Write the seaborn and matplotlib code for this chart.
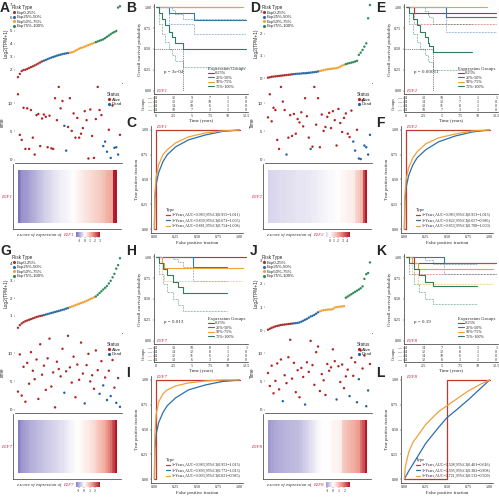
import numpy as np
import pandas as pd
import matplotlib
matplotlib.use("Agg")
import matplotlib.pyplot as plt
import seaborn as sns
from matplotlib.colors import LinearSegmentedColormap
from matplotlib.lines import Line2D

# ---------------- data ----------------
genes = ["E2F1", "E2F2", "E2F7", "E2F8"]
panel_letters = [["A", "B", "C"], ["D", "E", "F"], ["G", "H", "I"], ["J", "K", "L"]]
risk_labels = ["Exp0-25%", "Exp25%-50%", "Exp50%-75%", "Exp75%-100%"]
km_labels = ["0-25%", "25%-50%", "50%-75%", "75%-100%"]
km_ticks = [0, 2.5, 5, 7.5, 10, 12.5]
km_tick_labels = ["0", "2.5", "5", "7.5", "10", "12.5"]
pvalues = ["p = 3e-04", "p = 0.00011", "p = 0.013", "p = 0.19"]
medians = [3.8, 3.7, None, None]

expr_E2F1 = [1.45, 1.7, 1.92, 2.0, 2.02, 2.08, 2.15, 2.22, 2.28, 2.35, 2.42, 2.5, 2.58, 2.66,
             2.72, 2.77, 2.84, 2.9, 2.95, 3.0, 3.05, 3.1, 3.15, 3.18, 3.22, 3.25, 3.28, 3.3,
             3.33, 3.36, 3.4, 3.48, 3.56, 3.64, 3.7, 3.74, 3.8, 3.86, 3.92, 3.97, 4.02, 4.08,
             4.14, 4.2, 4.25, 4.3, 4.36, 4.45, 4.55, 4.65, 4.75, 4.85, 4.92, 5.0, 6.8, 6.9]
expr_E2F2 = [0.02, 0.04, 0.06, 0.07, 0.08, 0.09, 0.1, 0.11, 0.12, 0.13, 0.14, 0.15, 0.16, 0.17,
             0.18, 0.19, 0.2, 0.2, 0.21, 0.22, 0.22, 0.23, 0.24, 0.25, 0.26, 0.27, 0.28, 0.3,
             0.32, 0.34, 0.36, 0.38, 0.4, 0.41, 0.42, 0.43, 0.44, 0.45, 0.48, 0.52, 0.56, 0.6,
             0.63, 0.66, 0.68, 0.7, 0.72, 0.75, 0.78, 1.05, 1.15, 1.27, 1.42, 1.57, 2.7, 3.3]
expr_E2F7 = [0.3, 0.45, 0.55, 0.62, 0.68, 0.72, 0.76, 0.8, 0.84, 0.88, 0.92, 0.95, 0.98, 1.0,
             1.03, 1.06, 1.09, 1.12, 1.15, 1.18, 1.21, 1.24, 1.27, 1.3, 1.33, 1.36, 1.4, 1.44,
             1.48, 1.52, 1.56, 1.6, 1.64, 1.68, 1.72, 1.76, 1.8, 1.85, 1.9, 1.95, 2.0, 2.05,
             2.1, 2.2, 2.3, 2.4, 2.5, 2.6, 2.7, 2.85, 3.0, 3.2, 3.4, 3.7, 3.9, 4.3]
expr_E2F8 = [0.04, 0.08, 0.12, 0.15, 0.18, 0.2, 0.22, 0.24, 0.25, 0.26, 0.27, 0.28, 0.29, 0.3,
             0.31, 0.32, 0.33, 0.35, 0.38, 0.42, 0.46, 0.5, 0.55, 0.6, 0.63, 0.67, 0.72, 0.78,
             0.82, 0.85, 0.87, 0.88, 0.89, 0.9, 0.9, 0.92, 0.98, 1.0, 1.01, 1.02, 1.03, 1.04,
             1.4, 1.45, 1.5, 1.55, 1.6, 1.65, 1.7, 1.75, 1.8, 1.88, 2.2, 2.4, 2.45, 2.9]

time_E2F1 = [11.6, 4.4, 3.5, 9.2, 1.9, 9.1, 1.9, 8.8, 3.9, 0.9, 7.9, 8.1, 2.4, 7.3,
             8.0, 7.6, 2.2, 7.8, 2.0, 1.9, 10.9, 7.0, 12.9, 9.1, 10.4, 6.0, 1.6, 5.8,
             10.9, 5.1, 8.2, 3.9, 7.4, 3.9, 4.6, 5.6, 8.6, 7.0, 0.2, 8.9, 4.2, 0.3,
             7.2, 12.9, 8.8, 7.9, 2.4, 3.2, 1.4, 5.3, 0.3, 9.6, 2.1, 2.2, 0.9, 4.4]
time_E2F2 = [7.5, 11.6, 6.8, 9.2, 8.8, 3.5, 1.9, 12.9, 10.3, 8.8, 0.9, 3.9, 7.9, 4.2,
             8.1, 4.6, 7.2, 6.6, 8.4, 5.9, 10.9, 7.7, 3.9, 1.9, 2.3, 12.9, 6.2, 10.9,
             2.2, 8.0, 5.1, 5.8, 7.6, 8.3, 5.6, 8.6, 7.0, 2.5, 9.0, 6.5, 4.9, 7.4,
             8.2, 4.6, 4.0, 8.7, 3.2, 1.6, 5.3, 0.2, 0.1, 10.5, 2.5, 2.2, 0.9, 4.4]
time_E2F7 = [3.2, 9.8, 2.5, 7.6, 1.4, 8.3, 4.6, 10.2, 6.9, 5.4, 8.9, 1.9, 11.6, 6.2,
             7.8, 3.5, 9.1, 12.6, 4.1, 6.6, 0.4, 8.5, 7.2, 5.9, 10.8, 3.0, 6.8, 13.1,
             7.5, 4.8, 9.4, 2.2, 8.0, 5.3, 11.9, 6.4, 1.1, 7.9, 9.9, 5.0, 6.1, 3.7,
             10.5, 7.0, 2.8, 8.6, 4.3, 5.7, 1.7, 6.9, 2.4, 8.8, 3.9, 1.2, 5.6, 0.5]
time_E2F8 = [6.5, 4.2, 7.8, 2.9, 5.1, 8.2, 3.6, 8.9, 1.5, 6.1, 4.7, 9.3, 12.4, 5.5,
             8.3, 3.1, 7.0, 2.2, 7.4, 5.8, 0.9, 8.4, 6.7, 12.2, 7.9, 4.4, 10.2, 11.2,
             3.3, 6.3, 5.2, 2.6, 8.1, 6.9, 7.5, 10.7, 8.6, 1.8, 7.7, 4.9, 8.0, 3.8,
             5.9, 7.1, 2.4, 9.2, 6.0, 8.4, 1.3, 5.4, 10.5, 7.3, 9.6, 0.6, 3.4, 8.1]

dead_E2F1 = [25, 26, 46, 47, 48, 50, 52, 53, 54]
dead_E2F2 = [10, 23, 46, 47, 49, 50, 52, 53, 54, 55]
dead_E2F7 = [25, 36, 44, 46, 48, 50, 53, 55]
dead_E2F8 = [8, 20, 37, 44, 48, 49, 53, 54]

km_t_E2F1 = [[0, 11.5], [0, 1.8, 5.3, 12.5], [0, 12.0], [0, 0.5, 0.9, 1.3, 1.8, 2.2, 2.6, 3.8, 12.5]]
km_s_E2F1 = [[1, 1], [1, 0.93, 0.85, 0.85], [1, 1], [1, 0.93, 0.86, 0.79, 0.71, 0.64, 0.57, 0.5, 0.5]]
km_lo_E2F1 = [[1, 1], [1, 0.8, 0.68, 0.68], [1, 1], [1, 0.8, 0.68, 0.58, 0.5, 0.43, 0.36, 0.29, 0.29]]
km_hi_E2F1 = [[1, 1], [1, 1, 1, 1], [1, 1], [1, 1, 1, 1, 1, 0.97, 0.92, 0.86, 0.86]]

km_t_E2F2 = [[0, 1.1, 12.5], [0, 5.6, 12.5], [0, 11.2], [0, 0.5, 1.0, 1.5, 2.0, 2.6, 3.0, 3.2, 3.7, 9.1]]
km_s_E2F2 = [[1, 0.93, 0.93], [1, 0.89, 0.89], [1, 1], [1, 0.93, 0.86, 0.79, 0.71, 0.64, 0.57, 0.54, 0.46, 0.46]]
km_lo_E2F2 = [[1, 0.8, 0.8], [1, 0.71, 0.71], [1, 1], [1, 0.8, 0.68, 0.58, 0.5, 0.43, 0.36, 0.34, 0.25, 0.25]]
km_hi_E2F2 = [[1, 1, 1], [1, 1, 1], [1, 1], [1, 1, 1, 1, 1, 0.96, 0.91, 0.88, 0.8, 0.8]]

km_t_E2F7 = [[0, 12.5], [0, 5.2, 9.9], [0, 0.8, 1.1, 12.0], [0, 0.4, 1.0, 1.6, 2.4, 3.0, 3.8, 9.9]]
km_s_E2F7 = [[1, 1], [1, 0.88, 0.88], [1, 0.93, 0.875, 0.875], [1, 0.93, 0.86, 0.79, 0.71, 0.64, 0.57, 0.57]]
km_lo_E2F7 = [[1, 1], [1, 0.72, 0.72], [1, 0.8, 0.72, 0.72], [1, 0.8, 0.68, 0.58, 0.5, 0.43, 0.36, 0.36]]
km_hi_E2F7 = [[1, 1], [1, 1, 1], [1, 1, 1, 1], [1, 1, 1, 1, 0.98, 0.94, 0.89, 0.89]]

km_t_E2F8 = [[0, 1.2, 12.5], [0, 5.3, 12.5], [0, 0.9, 1.7, 12.0], [0, 0.4, 1.2, 1.8, 2.6, 3.8, 9.9]]
km_s_E2F8 = [[1, 0.93, 0.93], [1, 0.93, 0.93], [1, 0.93, 0.86, 0.86], [1, 0.93, 0.86, 0.79, 0.71, 0.65, 0.65]]
km_lo_E2F8 = [[1, 0.8, 0.8], [1, 0.8, 0.8], [1, 0.8, 0.68, 0.68], [1, 0.8, 0.68, 0.58, 0.5, 0.44, 0.44]]
km_hi_E2F8 = [[1, 1, 1], [1, 1, 1], [1, 1, 1, 1], [1, 1, 1, 1, 0.97, 0.92, 0.92]]

risk_E2F1 = [[14, 12, 9, 7, 1, 0], [14, 12, 12, 10, 1, 0], [14, 14, 10, 6, 1, 0], [14, 10, 7, 3, 1, 0]]
risk_E2F2 = [[14, 13, 10, 5, 1, 1], [14, 14, 12, 7, 2, 0], [14, 13, 11, 8, 1, 0], [14, 10, 7, 3, 1, 0]]
risk_E2F7 = [[14, 13, 10, 8, 1, 1], [14, 14, 12, 8, 1, 0], [14, 12, 11, 6, 2, 0], [14, 13, 6, 3, 0, 0]]
risk_E2F8 = [[14, 14, 7, 6, 1, 1], [14, 12, 12, 8, 1, 0], [14, 14, 10, 6, 1, 0], [14, 12, 8, 3, 1, 0]]

roc_fpr_E2F1 = [[0, 0.02, 0.02, 1.0],
                [0, 0.005, 0.02, 0.05, 0.1, 0.15, 0.25, 0.4, 0.6, 0.8, 1.0],
                [0, 0.005, 0.02, 0.05, 0.1, 0.15, 0.25, 0.4, 0.6, 0.8, 1.0]]
roc_tpr_E2F1 = [[0, 0, 1, 1],
                [0, 0.3, 0.45, 0.57, 0.68, 0.75, 0.83, 0.9, 0.95, 0.985, 1.0],
                [0, 0.35, 0.52, 0.65, 0.75, 0.8, 0.87, 0.93, 0.97, 0.99, 1.0]]
roc_fpr_E2F2 = roc_fpr_E2F1
roc_tpr_E2F2 = [[0, 0, 1, 1],
                [0, 0.28, 0.42, 0.54, 0.65, 0.72, 0.8, 0.88, 0.94, 0.98, 1.0],
                [0, 0.33, 0.5, 0.62, 0.72, 0.78, 0.86, 0.92, 0.96, 0.99, 1.0]]
roc_fpr_E2F7 = roc_fpr_E2F1
roc_tpr_E2F7 = [[0, 0, 1, 1],
                [0, 0.3, 0.45, 0.57, 0.67, 0.74, 0.82, 0.9, 0.95, 0.985, 1.0],
                [0, 0.45, 0.65, 0.78, 0.86, 0.9, 0.94, 0.97, 0.99, 1.0, 1.0]]
roc_fpr_E2F8 = [[0, 0.5, 0.5, 1.0],
                [0, 0.05, 0.1, 0.25, 0.4, 0.5, 0.6, 0.75, 0.9, 1.0],
                [0, 0.01, 0.05, 0.1, 0.25, 0.4, 0.5, 0.6, 0.75, 0.9, 1.0]]
roc_tpr_E2F8 = [[0, 0, 1, 1],
                [0, 0.08, 0.15, 0.36, 0.52, 0.62, 0.69, 0.8, 0.92, 1.0],
                [0, 0.12, 0.27, 0.37, 0.55, 0.68, 0.74, 0.8, 0.89, 0.96, 1.0]]

roc_leg_E2F1 = ["1\u2212Years,AUC=0.983,95%CI(0.955\u22121.011)",
                "3\u2212Years,AUC=0.839,95%CI(0.673\u22121.005)",
                "5\u2212Years,AUC=0.881,95%CI(0.754\u22121.008)"]
roc_leg_E2F2 = ["1\u2212Years,AUC=0.983,95%CI(0.953\u22121.013)",
                "3\u2212Years,AUC=0.822,95%CI(0.657\u22120.986)",
                "5\u2212Years,AUC=0.853,95%CI(0.708\u22121.000)"]
roc_leg_E2F7 = ["1\u2212Years,AUC=0.983,95%CI(0.953\u22121.013)",
                "3\u2212Years,AUC=0.893,95%CI(0.772\u22121.013)",
                "5\u2212Years,AUC=0.903,95%CI(0.821\u22120.985)"]
roc_leg_E2F8 = ["1\u2212Years,AUC=0.508,95%CI(0.401\u22120.616)",
                "3\u2212Years,AUC=0.595,95%CI(0.382\u22120.808)",
                "5\u2212Years,AUC=0.721,95%CI(0.532\u22120.909)"]

expr_all = [expr_E2F1, expr_E2F2, expr_E2F7, expr_E2F8]
time_all = [time_E2F1, time_E2F2, time_E2F7, time_E2F8]
dead_all = [dead_E2F1, dead_E2F2, dead_E2F7, dead_E2F8]
km_t_all = [km_t_E2F1, km_t_E2F2, km_t_E2F7, km_t_E2F8]
km_s_all = [km_s_E2F1, km_s_E2F2, km_s_E2F7, km_s_E2F8]
km_lo_all = [km_lo_E2F1, km_lo_E2F2, km_lo_E2F7, km_lo_E2F8]
km_hi_all = [km_hi_E2F1, km_hi_E2F2, km_hi_E2F7, km_hi_E2F8]
risk_all = [risk_E2F1, risk_E2F2, risk_E2F7, risk_E2F8]
roc_fpr_all = [roc_fpr_E2F1, roc_fpr_E2F2, roc_fpr_E2F7, roc_fpr_E2F8]
roc_tpr_all = [roc_tpr_E2F1, roc_tpr_E2F2, roc_tpr_E2F7, roc_tpr_E2F8]
roc_leg_all = [roc_leg_E2F1, roc_leg_E2F2, roc_leg_E2F7, roc_leg_E2F8]

# ---------------- style ----------------
expr_ylim = [(1.0, 7.15), (-0.22, 3.39), (0.0, 4.6), (-0.1, 3.3)]
expr_yticks = [[2, 3, 4, 5, 6, 7], [0, 1, 2, 3], [1, 2, 3, 4], [0, 1, 2, 3]]
risk_colors = ["#A8322D", "#2C6DA8", "#F0A43A", "#2E8B57"]
km_colors = ["#B8312F", "#3A78A8", "#EEA236", "#2F7F5F"]
roc_colors = ["#C0392B", "#2C6FAC", "#F0A040"]
status_colors = {"Alive": "#B22222", "Dead": "#1F5FA5"}
gene_red = "#C0304A"
hm_cmap = LinearSegmentedColormap.from_list(
    "hm", ["#2E2A8A", "#8C84C6", "#FFFFFF", "#EE9A8A", "#B2182B"])

sns.set_theme(style="white")
SANS = ["Liberation Sans", "DejaVu Sans"]
SERIF = ["Liberation Serif", "DejaVu Serif"]
plt.rcParams["font.family"] = SANS

W, H = 499, 500
fig = plt.figure(figsize=(W / 100, H / 100), dpi=100)


def box(x0, y0, x1, y1):
    return [x0 / W, 1 - y1 / H, (x1 - x0) / W, (y1 - y0) / H]


def fpt(x, y):
    return (x / W, 1 - y / H)


def spines(ax, show, lw=0.5, color="#333333"):
    for sp in ["top", "right", "left", "bottom"]:
        ax.spines[sp].set_visible(sp in show)
        ax.spines[sp].set_linewidth(lw)
        ax.spines[sp].set_color(color)


def draw_group(gi, ox, oy, ldy):
    gene = genes[gi]
    expr = np.asarray(expr_all[gi], float)
    tim = np.asarray(time_all[gi], float)
    n = len(expr)
    idx = np.arange(n)
    risk = np.repeat(risk_labels, n // 4)
    status = np.array(["Dead" if i in dead_all[gi] else "Alive" for i in range(n)])

    L1, L2, L3 = panel_letters[gi]
    fig.text(*fpt(ox + 0, oy + ldy), L1, fontsize=10, fontweight="bold", va="top", ha="left", family=SANS)
    fig.text(*fpt(ox + 126, oy + ldy), L2, fontsize=10, fontweight="bold", va="top", ha="left", family=SANS)
    fig.text(*fpt(ox + 126, oy + 116), L3, fontsize=10, fontweight="bold", va="top", ha="left", family=SANS)

    # --- expression scatter ---
    ax = fig.add_axes(box(ox + 15, oy + 3, ox + 122, oy + 83))
    df = pd.DataFrame({"i": idx, "v": expr, "Risk Type": risk})
    sns.scatterplot(data=df, x="i", y="v", hue="Risk Type", hue_order=risk_labels,
                    palette=dict(zip(risk_labels, risk_colors)), s=3, linewidth=0, ax=ax)
    ax.set_xlim(-1.6, n + 0.1)
    ax.set_ylim(*expr_ylim[gi])
    ax.set_yticks(expr_yticks[gi], labels=[str(t) for t in expr_yticks[gi]], fontsize=3.2, family=SANS)
    ax.set_xticks([])
    ax.set_xlabel("")
    ax.set_ylabel("Log2(TPM+1)", fontsize=3.4, labelpad=1, family=SANS)
    ax.tick_params(axis="y", length=1, width=0.3, pad=0.8, left=True)
    spines(ax, ["bottom"])
    sns.move_legend(ax, "upper left", bbox_to_anchor=fpt(ox + 10, oy + 3),
                    bbox_transform=fig.transFigure, title="Risk Type", fontsize=3.1,
                    title_fontsize=3.3, frameon=False, handletextpad=0.1, labelspacing=0.12,
                    borderpad=0, markerscale=1.3, alignment="left", handlelength=1.0)

    # --- time scatter ---
    ax2 = fig.add_axes(box(ox + 15, oy + 83, ox + 122, oy + 163))
    df2 = pd.DataFrame({"i": idx, "t": tim, "Status": status})
    sns.scatterplot(data=df2, x="i", y="t", hue="Status", hue_order=["Alive", "Dead"],
                    palette=status_colors, s=3, linewidth=0, ax=ax2)
    ax2.set_xlim(-1.6, n + 0.1)
    ax2.set_ylim(-0.6, 13.6)
    ax2.set_yticks([0, 5, 10], labels=["0", "5", "10"], fontsize=3.2, family=SANS)
    ax2.set_xticks([])
    ax2.set_xlabel("")
    ax2.set_ylabel("Time", fontsize=3.4, labelpad=2, family=SANS)
    ax2.tick_params(axis="y", length=1, width=0.3, pad=0.8, left=True)
    spines(ax2, ["bottom"])
    sns.move_legend(ax2, "upper right", bbox_to_anchor=fpt(ox + 124, oy + 90),
                    bbox_transform=fig.transFigure, title="Status", fontsize=3.1,
                    title_fontsize=3.3, frameon=False, handletextpad=0.1, labelspacing=0.12,
                    borderpad=0, markerscale=1.3, alignment="left", handlelength=1.0)

    # --- heatmap ---
    z = (expr - expr.mean()) / expr.std(ddof=1)
    ax3 = fig.add_axes(box(ox + 13, oy + 164, ox + 121, oy + 229))
    cax = fig.add_axes(box(ox + 76, oy + 232, ox + 100, oy + 237))
    sns.heatmap(z[None, :], cmap=hm_cmap, center=0, ax=ax3, cbar_ax=cax,
                cbar_kws={"orientation": "horizontal"}, xticklabels=False, yticklabels=False)
    ax3.set_xlim(-2.8, n + 2.3)
    ax3.set_ylim(1.113, -0.113)
    spines(ax3, ["left", "bottom"])
    zt = [t for t in range(-3, 8) if z.min() <= t <= z.max()]
    cax.set_xticks(zt, labels=[str(t) for t in zt], fontsize=2.8, family=SERIF)
    cax.tick_params(length=0.8, width=0.3, pad=0.5)
    fig.text(*fpt(ox + 7, oy + 197), gene, color=gene_red, fontsize=3.6, style="italic",
             ha="center", va="center", family=SERIF)
    fig.text(*fpt(ox + 63, oy + 235), "z-score of expression of ", fontsize=3.4, style="italic",
             ha="right", va="center", family=SERIF)
    fig.text(*fpt(ox + 63.5, oy + 235), gene, fontsize=3.4, style="italic", color=gene_red,
             ha="left", va="center", family=SERIF)

    # --- KM ---
    ax4 = fig.add_axes(box(ox + 154, oy + 4, ox + 248, oy + 94))
    for g in range(4):
        t = km_t_all[gi][g]
        lo = km_lo_all[gi][g]
        hi = km_hi_all[gi][g]
        for ci in (lo, hi):
            if min(ci) < 1:
                sns.lineplot(x=t, y=ci, color=km_colors[g], lw=0.45, linestyle=(0, (1.2, 1.2)),
                             drawstyle="steps-post", estimator=None, sort=False, ax=ax4)
    for g in range(4):
        sns.lineplot(x=km_t_all[gi][g], y=km_s_all[gi][g], color=km_colors[g], lw=0.8,
                     drawstyle="steps-post", estimator=None, sort=False, ax=ax4)
    med = medians[gi]
    if med is not None:
        sns.lineplot(x=[-0.25, med, med], y=[0.5, 0.5, 0.0], color="#333333", lw=0.45,
                     linestyle=(0, (1.5, 1.5)), estimator=None, sort=False, ax=ax4)
    ax4.set_xlim(-0.25, 12.75)
    ax4.set_ylim(-0.04, 1.04)
    ax4.set_xticks(km_ticks, labels=[""] * len(km_ticks))
    ax4.set_yticks([0, 0.25, 0.5, 0.75, 1.0], labels=["0.00", "0.25", "0.50", "0.75", "1.00"],
                   fontsize=3.0, family=SERIF)
    ax4.tick_params(length=1, width=0.3, pad=0.8, left=True, bottom=True)
    ax4.set_xlabel("")
    ax4.set_ylabel("Overall survival probability", fontsize=3.4, labelpad=1.5, family=SERIF)
    spines(ax4, ["left", "bottom"])
    ax4.text(1.2, 0.22, pvalues[gi], fontsize=3.6, family=SERIF, va="center")
    ax4.text(0.05, 0.0, gene, fontsize=3.6, family=SERIF, style="italic", color=gene_red, va="center")
    handles = [Line2D([0], [0], color=c, lw=0.8) for c in km_colors]
    ax4.legend(handles, km_labels, title="Expression Groups", loc="lower right",
               bbox_to_anchor=(1.0, 0.03), prop={"family": SERIF, "size": 3.1},
               title_fontproperties={"family": SERIF, "size": 3.5}, frameon=False,
               handlelength=1.3, labelspacing=0.12, handletextpad=0.4, borderpad=0.1,
               alignment="left")

    # --- risk table ---
    ax5 = fig.add_axes(box(ox + 154, oy + 96, ox + 248, oy + 112))
    ax5.set_xlim(-0.25, 12.75)
    ax5.set_ylim(0.5, 4.5)
    for r, row in enumerate(risk_all[gi]):
        for tt, cnt in zip(km_ticks, row):
            ax5.text(tt, 4 - r, str(cnt), fontsize=2.9, family=SERIF, ha="center", va="center")
    ax5.set_xticks(km_ticks, labels=km_tick_labels, fontsize=3.0, family=SERIF)
    ax5.set_yticks([4, 3, 2, 1], labels=["\u2014"] * 4, fontsize=3.0, fontweight="bold")
    for lab, c in zip(ax5.get_yticklabels(), km_colors):
        lab.set_color(c)
    ax5.tick_params(length=1, width=0.3, pad=0.6, left=True, bottom=True)
    ax5.set_xlabel("Time (years)", fontsize=3.4, labelpad=0.5, family=SERIF)
    ax5.set_ylabel("Groups", fontsize=3.2, labelpad=1, family=SERIF)
    spines(ax5, ["left", "bottom"])

    # --- ROC ---
    ax6 = fig.add_axes(box(ox + 151, oy + 126, ox + 243, oy + 233))
    for k in range(3):
        sns.lineplot(x=roc_fpr_all[gi][k], y=roc_tpr_all[gi][k], color=roc_colors[k], lw=0.9,
                     estimator=None, sort=False, ax=ax6)
    ax6.set_xlim(-0.04, 1.04)
    ax6.set_ylim(-0.04, 1.04)
    tk = [0, 0.25, 0.5, 0.75, 1.0]
    tl = ["0.00", "0.25", "0.50", "0.75", "1.00"]
    ax6.set_xticks(tk, labels=tl, fontsize=3.0, family=SERIF)
    ax6.set_yticks(tk, labels=tl, fontsize=3.0, family=SERIF)
    ax6.tick_params(length=1, width=0.3, pad=0.8, left=True, bottom=True)
    ax6.set_xlabel("False positive fraction", fontsize=3.4, labelpad=1, family=SERIF)
    ax6.set_ylabel("True positive fraction", fontsize=3.4, labelpad=1.5, family=SERIF)
    spines(ax6, ["left", "bottom"])
    ax6.text(0.02, 1.005, gene, fontsize=3.6, family=SERIF, style="italic", color=gene_red, va="bottom")
    rh = [Line2D([0], [0], color=c, lw=0.9) for c in roc_colors]
    ax6.legend(rh, roc_leg_all[gi], title="Type", loc="lower right", bbox_to_anchor=(1.0, 0.02),
               prop={"family": SERIF, "size": 2.9}, title_fontproperties={"family": SERIF, "size": 3.3},
               frameon=False, handlelength=1.0, labelspacing=0.35, handletextpad=0.4,
               borderpad=0.1, alignment="left")


offsets = [(0, 0, 1), (250, 0, 1), (0, 250, -6), (250, 250, -6)]
for gi, (ox, oy, ldy) in enumerate(offsets):
    draw_group(gi, ox, oy, ldy)

fig.savefig("out.png", dpi=100)
